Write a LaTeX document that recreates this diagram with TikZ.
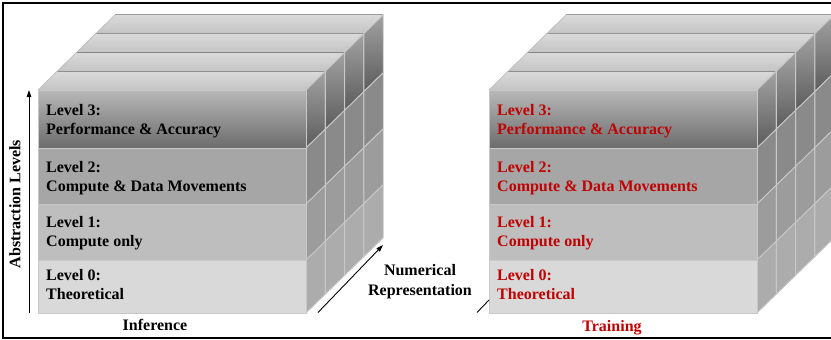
\documentclass[tikz,border=0pt]{standalone}
\usepackage{fontspec}
\setmainfont{Liberation Serif}
\usetikzlibrary{arrows.meta}
\definecolor{lvred}{RGB}{192,0,0}
\definecolor{topL}{HTML}{DADADA}
\definecolor{topD}{HTML}{C4C4C4}
\definecolor{divline}{HTML}{9C9C9C}
\definecolor{cellline}{HTML}{C8C8C8}
\definecolor{frontA}{HTML}{B8B8B8}
\definecolor{frontB}{HTML}{6C6C6C}
\definecolor{frontTwo}{HTML}{A6A6A6}
\definecolor{frontOne}{HTML}{BEBEBE}
\definecolor{frontZero}{HTML}{D9D9D9}
\definecolor{sideA}{HTML}{A2A2A2}
\definecolor{sideB}{HTML}{5C5C5C}
\definecolor{sideTwo}{HTML}{8A8A8A}
\definecolor{sideOne}{HTML}{9C9C9C}
\definecolor{sideZero}{HTML}{ACACAC}
\tikzset{
  lvtext/.style={font=\fontsize{16}{19.5}\selectfont\bfseries, align=left, inner sep=0pt, anchor=west},
  axtext/.style={font=\fontsize{16}{19.5}\selectfont\bfseries, align=center, inner sep=0pt},
  lvthree/.style={top color=frontA, bottom color=frontB},
  lvtwo/.style={fill=frontTwo},
  lvone/.style={fill=frontOne},
  lvzero/.style={fill=frontZero},
  sdthree/.style={top color=sideA, bottom color=sideB},
  sdtwo/.style={fill=sideTwo},
  sdone/.style={fill=sideOne},
  sdzero/.style={fill=sideZero},
  cellborder/.style={draw=cellline, line width=0.9pt},
  axisarrow/.style={line width=0.9pt, -{Triangle[length=7pt,width=4.5pt]}},
}
\def\DX{19.3}
\def\DY{-18.8}
\newcommand\drawcube[3]{%
\begin{scope}[xshift=#1]
  % top strips
  \foreach \k in {0,1,2,3}{
    \pgfmathsetmacro\ka{\k}
    \pgfmathsetmacro\kb{\k+1}
    \fill[top color=topL, bottom color=topD]
      ({38+\DX*\ka},{90+\DY*\ka}) -- ({306+\DX*\ka},{90+\DY*\ka}) --
      ({306+\DX*\kb},{90+\DY*\kb}) -- ({38+\DX*\kb},{90+\DY*\kb}) -- cycle;
    \draw[divline, line width=1.3pt] ({38+\DX*\kb},{90+\DY*\kb}) -- ({306+\DX*\kb},{90+\DY*\kb});
    \draw[topD, line width=0.7pt] ({38+\DX*\ka},{90+\DY*\ka}) -- ({38+\DX*\kb},{90+\DY*\kb});
  }
  % side cells
  \foreach \k in {0,1,2,3}{
    \pgfmathsetmacro\ka{\k}
    \pgfmathsetmacro\kb{\k+1}
    \foreach \yt/\yb/\st in {90/148/sdthree,148/204/sdtwo,204/260/sdone,260/313/sdzero}{
      \path[\st, cellborder]
        ({306+\DX*\ka},{\yt+\DY*\ka}) -- ({306+\DX*\kb},{\yt+\DY*\kb}) --
        ({306+\DX*\kb},{\yb+\DY*\kb}) -- ({306+\DX*\ka},{\yb+\DY*\ka}) -- cycle;
    }
  }
  % front faces
  \path[lvthree, cellborder] (38,90) rectangle (306,148);
  \path[lvtwo, cellborder] (38,148) rectangle (306,204);
  \path[lvone, cellborder] (38,204) rectangle (306,260);
  \path[lvzero, cellborder] (38,260) rectangle (306,313);
  \node[lvtext, text=#3] (#2l3) at (46,121) {Level 3:\\Performance \& Accuracy};
  \node[lvtext, text=#3] (#2l2) at (46,178) {Level 2:\\Compute \& Data Movements};
  \node[lvtext, text=#3] (#2l1) at (46,233) {Level 1:\\Compute only};
  \node[lvtext, text=#3] (#2l0) at (46,284.5) {Level 0:\\Theoretical};
\end{scope}}
\begin{document}
\begin{tikzpicture}[x=1pt,y=-1pt]
\useasboundingbox (0,0) rectangle (831,340);
\fill[white] (0,0) rectangle (831,340);
\draw[line width=1.5pt] (3,3) rectangle (860,338);
\drawcube{0pt}{inf}{black}
\drawcube{451pt}{trn}{lvred}
% axes
\coordinate (absbot) at (29,313);
\coordinate (abstop) at (29,90);
\draw[axisarrow] (absbot) -- (abstop);
\node[axtext, rotate=90] (abslbl) at (15,204) {Abstraction Levels};
\coordinate (numbot) at (318,312.5);
\coordinate (numtop) at (383,245);
\draw[axisarrow] (numbot) -- (numtop);
\node[axtext] (numlbl) at (420,281.5) {Numerical\\Representation};
\coordinate (num2bot) at (477,312.5);
\coordinate (num2top) at (489,300);
\draw[line width=0.9pt] (num2bot) -- (num2top);
\node[axtext, anchor=base] (inflbl) at (155,330) {Inference};
\node[axtext, anchor=base, text=lvred] (trnlbl) at (612,331) {Training};
\end{tikzpicture}
\end{document}
